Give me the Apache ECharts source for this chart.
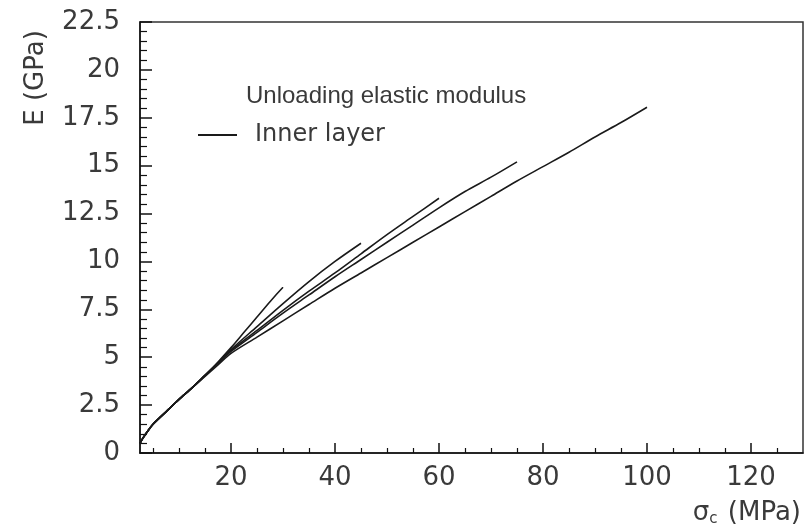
<!DOCTYPE html>
<html>
<head>
<meta charset="utf-8">
<script src="https://cdn.jsdelivr.net/npm/echarts@6/dist/echarts.min.js"></script>
<style>
  html, body { margin: 0; padding: 0; background: #fff; }
  #chart { width: 807px; height: 526px; }
</style>
</head>
<body>
<div id="chart"></div>
<script>
// curves of unloading modulus, each one ends at its own max stress
var x30 = [2.5, 3, 4, 5, 7.5, 10, 12.5, 15, 17.5, 20, 22.5, 25, 27.5, 30];
var y30 = [0.5, 0.75, 1.15, 1.5, 2.15, 2.8, 3.4, 4.05, 4.75, 5.5, 6.3, 7.1, 7.9, 8.65];

var x45 = [2.5, 3, 4, 5, 7.5, 10, 12.5, 15, 17.5, 20, 25, 30, 35, 40, 45];
var y45 = [0.5, 0.75, 1.15, 1.5, 2.15, 2.8, 3.4, 4.05, 4.7, 5.4, 6.6, 7.8, 8.95, 10.0, 10.95];

var x60 = [2.5, 3, 4, 5, 7.5, 10, 12.5, 15, 17.5, 20, 25, 30, 35, 40, 45, 50, 55, 60];
var y60 = [0.5, 0.75, 1.15, 1.5, 2.15, 2.8, 3.4, 4.05, 4.7, 5.35, 6.4, 7.45, 8.45, 9.4, 10.4, 11.4, 12.35, 13.3];

var x75 = [2.5, 3, 4, 5, 7.5, 10, 12.5, 15, 17.5, 20, 25, 30, 35, 40, 45, 50, 55, 60, 65, 70, 75];
var y75 = [0.5, 0.75, 1.15, 1.5, 2.15, 2.8, 3.4, 4.05, 4.7, 5.3, 6.3, 7.3, 8.25, 9.2, 10.1, 11.0, 11.9, 12.8, 13.65, 14.4, 15.2];

var x100 = [2.5, 3, 4, 5, 7.5, 10, 12.5, 15, 17.5, 20, 25, 30, 35, 40, 45, 50, 55, 60, 65, 70, 75, 80, 85, 90, 95, 100];
var y100 = [0.5, 0.75, 1.15, 1.5, 2.15, 2.8, 3.4, 4.0, 4.6, 5.2, 6.05, 6.9, 7.75, 8.6, 9.4, 10.2, 11.0, 11.8, 12.6, 13.4, 14.2, 14.95, 15.7, 16.5, 17.25, 18.05];

var xLabels = [20, 40, 60, 80, 100, 120];
var xMinorTicks = [5, 10, 15, 25, 30, 35, 45, 50, 55, 65, 70, 75, 85, 90, 95, 105, 110, 115, 125];

var fontName = 'DejaVu Sans';
var textColor = '#3a3a3a';

function pairs(xs, ys) {
  var out = [];
  for (var i = 0; i < xs.length; i++) out.push([xs[i], ys[i]]);
  return out;
}

function curve(xs, ys) {
  return {
    name: 'Inner layer',
    type: 'line',
    data: pairs(xs, ys),
    symbol: 'none',
    smooth: 0.3,
    lineStyle: { color: '#1a1a1a', width: 1.6 },
    itemStyle: { color: '#1a1a1a' },
    silent: true
  };
}

var dom = document.getElementById('chart');
var myChart = echarts.init(dom, null, { renderer: 'canvas' });

var option = {
  animation: false,
  backgroundColor: '#fff',
  title: {
    text: 'Unloading elastic modulus',
    left: 241,
    top: 79,
    textStyle: { fontFamily: 'Liberation Sans', fontSize: 24, fontWeight: 'normal', color: textColor }
  },
  legend: {
    data: ['Inner layer'],
    left: 193,
    top: 118,
    icon: 'rect',
    itemWidth: 39,
    itemHeight: 2,
    textStyle: { fontFamily: fontName, fontSize: 24, color: textColor, padding: [0, 0, 0, 13] }
  },
  grid: {
    left: 140,
    right: 4,
    top: 22,
    bottom: 73,
    show: true,
    borderColor: '#333',
    borderWidth: 1.5,
    outerBoundsMode: 'none'
  },
  xAxis: [{
    type: 'value',
    min: 2.5,
    max: 130,
    axisLine: { lineStyle: { color: '#111', width: 1.5 } },
    axisTick: { inside: true, length: 10, customValues: xLabels, lineStyle: { color: '#111', width: 1.5 } },
    axisLabel: { customValues: xLabels, margin: 12, fontFamily: fontName, fontSize: 26, color: textColor },
    splitLine: { show: false }
  }, {
    type: 'value',
    position: 'bottom',
    min: 2.5,
    max: 130,
    axisLine: { show: false },
    axisTick: { inside: true, length: 5, customValues: xMinorTicks, lineStyle: { color: '#111', width: 1.2 } },
    axisLabel: { show: false },
    splitLine: { show: false }
  }],
  yAxis: {
    type: 'value',
    min: 0,
    max: 22.5,
    interval: 2.5,
    axisLine: { show: true, lineStyle: { color: '#111', width: 1.5 } },
    axisTick: { inside: true, length: 12, lineStyle: { color: '#111', width: 1.5 } },
    minorTick: { show: true, splitNumber: 5, length: 7, lineStyle: { color: '#111', width: 1.2 } },
    axisLabel: { margin: 20, fontFamily: fontName, fontSize: 26, color: textColor },
    splitLine: { show: false }
  },
  graphic: [{
    type: 'text',
    x: 36,
    y: 78,
    rotation: Math.PI / 2,
    style: {
      text: 'E (GPa)',
      fontFamily: fontName,
      fontSize: 26,
      fill: textColor,
      align: 'center',
      verticalAlign: 'middle'
    }
  }, {
    type: 'text',
    x: 801,
    y: 513,
    style: {
      text: '{s|σ}{c|c} (MPa)',
      fontFamily: fontName,
      fontSize: 26,
      fill: textColor,
      align: 'right',
      verticalAlign: 'middle',
      rich: {
        s: { fontFamily: fontName, fontSize: 26, fill: textColor },
        c: { fontFamily: fontName, fontSize: 15, fill: textColor, verticalAlign: 'bottom', padding: [12, 2, 0, 0] }
      }
    }
  }],
  series: [
    curve(x30, y30),
    curve(x45, y45),
    curve(x60, y60),
    curve(x75, y75),
    curve(x100, y100)
  ]
};

myChart.setOption(option);
window.addEventListener('resize', myChart.resize);
</script>
</body>
</html>
